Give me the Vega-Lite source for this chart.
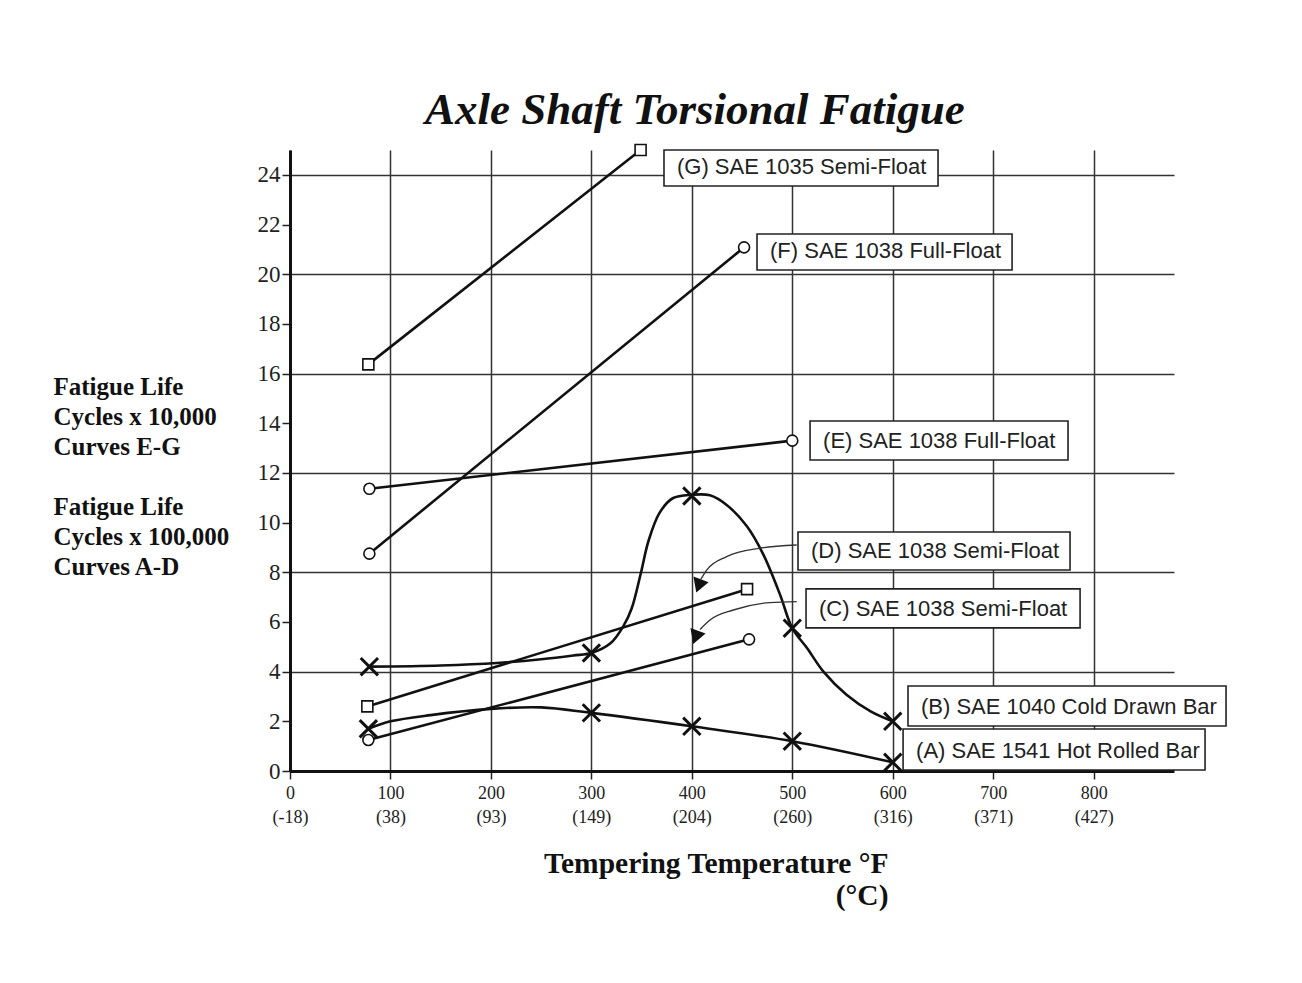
{
  "$schema": "https://vega.github.io/schema/vega-lite/v6.json",
  "autosize": {"type": "none"},
  "padding": {"left": 290, "top": 150, "right": 128, "bottom": 212},
  "width": 884,
  "height": 621,
  "background": "white",
  "title": {
    "text": "Axle Shaft Torsional Fatigue",
    "anchor": "start",
    "frame": "group",
    "dx": 135,
    "dy": 53,
    "offset": 25,
    "baseline": "alphabetic",
    "font": "Liberation Serif",
    "fontSize": 45,
    "fontStyle": "italic",
    "fontWeight": "bold",
    "color": "#111"
  },
  "config": {"view": {"stroke": null}},
  "datasets": {
    "points": [
      {"series": "G", "temp": 78, "life": 16.37},
      {"series": "G", "temp": 349, "life": 25.0},
      {"series": "F", "temp": 79, "life": 8.75},
      {"series": "F", "temp": 452, "life": 21.08},
      {"series": "E", "temp": 79, "life": 11.36},
      {"series": "E", "temp": 500, "life": 13.3},
      {"series": "D", "temp": 77, "life": 2.6},
      {"series": "D", "temp": 455, "life": 7.32},
      {"series": "C", "temp": 78, "life": 1.25},
      {"series": "C", "temp": 457, "life": 5.3},
      {"series": "B", "temp": 79, "life": 4.2},
      {"series": "B", "temp": 300, "life": 4.75},
      {"series": "B", "temp": 400, "life": 11.07},
      {"series": "B", "temp": 500, "life": 5.75},
      {"series": "B", "temp": 600, "life": 2.0},
      {"series": "A", "temp": 78, "life": 1.7},
      {"series": "A", "temp": 300, "life": 2.34},
      {"series": "A", "temp": 400, "life": 1.8},
      {"series": "A", "temp": 500, "life": 1.2},
      {"series": "A", "temp": 600, "life": 0.35}
    ],
    "curves": [
      {"series": "A", "temp": 78, "life": 1.7},
      {"series": "A", "temp": 100, "life": 2.0},
      {"series": "A", "temp": 140, "life": 2.25},
      {"series": "A", "temp": 200, "life": 2.5},
      {"series": "A", "temp": 250, "life": 2.56},
      {"series": "A", "temp": 300, "life": 2.34},
      {"series": "A", "temp": 400, "life": 1.8},
      {"series": "A", "temp": 500, "life": 1.2},
      {"series": "A", "temp": 600, "life": 0.35},
      {"series": "B", "temp": 79, "life": 4.2},
      {"series": "B", "temp": 150, "life": 4.25},
      {"series": "B", "temp": 206, "life": 4.35},
      {"series": "B", "temp": 250, "life": 4.5},
      {"series": "B", "temp": 282, "life": 4.65},
      {"series": "B", "temp": 300, "life": 4.75},
      {"series": "B", "temp": 319, "life": 5.14},
      {"series": "B", "temp": 332, "life": 5.84},
      {"series": "B", "temp": 340, "life": 6.53},
      {"series": "B", "temp": 349, "life": 7.92},
      {"series": "B", "temp": 357, "life": 9.28},
      {"series": "B", "temp": 368, "life": 10.4},
      {"series": "B", "temp": 381, "life": 10.98},
      {"series": "B", "temp": 400, "life": 11.12},
      {"series": "B", "temp": 418, "life": 11.1},
      {"series": "B", "temp": 435, "life": 10.7},
      {"series": "B", "temp": 455, "life": 9.84},
      {"series": "B", "temp": 471, "life": 8.73},
      {"series": "B", "temp": 488, "life": 7.08},
      {"series": "B", "temp": 500, "life": 5.75},
      {"series": "B", "temp": 515, "life": 4.93},
      {"series": "B", "temp": 531, "life": 4.0},
      {"series": "B", "temp": 554, "life": 3.07},
      {"series": "B", "temp": 578, "life": 2.4},
      {"series": "B", "temp": 600, "life": 2.0}
    ],
    "boxes": [
      {"label": "(G) SAE 1035 Semi-Float", "temp": 372.3, "temp2": 645.1, "life": 25.0, "life2": 23.55},
      {"label": "(F) SAE 1038 Full-Float", "temp": 464.9, "temp2": 718.8, "life": 21.62, "life2": 20.17},
      {"label": "(E) SAE 1038 Full-Float", "temp": 517.7, "temp2": 774.5, "life": 14.09, "life2": 12.52},
      {"label": "(D) SAE 1038 Semi-Float", "temp": 505.7, "temp2": 776.5, "life": 9.62, "life2": 8.09},
      {"label": "(C) SAE 1038 Semi-Float", "temp": 513.7, "temp2": 786.5, "life": 7.33, "life2": 5.76},
      {"label": "(B) SAE 1040 Cold Drawn Bar", "temp": 615.2, "temp2": 931.8, "life": 3.42, "life2": 1.81},
      {"label": "(A) SAE 1541 Hot Rolled Bar", "temp": 610.3, "temp2": 910.9, "life": 1.69, "life2": 0.04}
    ],
    "arrows": [
      {"series": "D", "temp": 504.4, "life": 9.1},
      {"series": "D", "temp": 467.9, "life": 8.97},
      {"series": "D", "temp": 434.7, "life": 8.63},
      {"series": "D", "temp": 414.8, "life": 8.09},
      {"series": "D", "temp": 409, "life": 7.72},
      {"series": "C", "temp": 504.4, "life": 6.82},
      {"series": "C", "temp": 477.8, "life": 6.78},
      {"series": "C", "temp": 441.3, "life": 6.48},
      {"series": "C", "temp": 418.1, "life": 6.08},
      {"series": "C", "temp": 408.2, "life": 5.7}
    ],
    "heads": [
      {"series": "D", "temp": 406.8, "life": 7.45},
      {"series": "C", "temp": 403.8, "life": 5.38}
    ]
  },
  "encoding": {
    "x": {
      "field": "temp",
      "type": "quantitative",
      "scale": {"domain": [0, 880], "nice": false, "zero": false},
      "axis": {
        "values": [0, 100, 200, 300, 400, 500, 600, 700, 800],
        "labelExpr": "[datum.label, '(' + round((datum.value - 32) * 5 / 9) + ')']",
        "labelFont": "Liberation Serif",
        "labelFontSize": 18,
        "labelLineHeight": 24,
        "labelColor": "#222",
        "labelPadding": 5,
        "labelFlush": false,
        "labelOverlap": false,
        "tickSize": 8,
        "tickColor": "#222",
        "tickWidth": 1.5,
        "domainColor": "#111",
        "domainWidth": 3,
        "grid": true,
        "gridColor": "#333",
        "gridWidth": 1.5,
        "title": ["Tempering Temperature °F\u00a0", "(°C)"],
        "titleFont": "Liberation Serif",
        "titleFontSize": 29.5,
        "titleFontWeight": "bold",
        "titleColor": "#111",
        "titleAlign": "right",
        "titleBaseline": "alphabetic",
        "titleX": 598,
        "titleY": 101,
        "titleLineHeight": 32
      }
    },
    "y": {
      "field": "life",
      "type": "quantitative",
      "scale": {"domain": [0, 25], "nice": false},
      "axis": {
        "values": [0, 2, 4, 6, 8, 10, 12, 14, 16, 18, 20, 22, 24],
        "labelFont": "Liberation Serif",
        "labelFontSize": 23,
        "labelColor": "#222",
        "labelPadding": 2,
        "tickSize": 8,
        "tickColor": "#222",
        "tickWidth": 1.5,
        "domainColor": "#111",
        "domainWidth": 3,
        "grid": true,
        "gridColor": "#333",
        "gridWidth": 1.5,
        "gridOpacity": {"condition": {"test": "datum.value % 4 === 0 && datum.value > 0", "value": 1}, "value": 0},
        "title": ["Fatigue Life", "Cycles x 10,000", "Curves E-G", "\u2800", "Fatigue Life", "Cycles x 100,000", "Curves A-D"],
        "titleFont": "Liberation Serif",
        "titleFontSize": 25,
        "titleFontWeight": "bold",
        "titleColor": "#111",
        "titleAngle": 0,
        "titleAlign": "left",
        "titleBaseline": "alphabetic",
        "titleX": -237,
        "titleY": 244,
        "titleLineHeight": 30
      }
    }
  },
  "layer": [
    {
      "data": {"name": "points"},
      "transform": [{"filter": "datum.series != 'A' && datum.series != 'B'"}],
      "mark": {"type": "line", "color": "#111", "strokeWidth": 2.6},
      "encoding": {"detail": {"field": "series"}}
    },
    {
      "data": {"name": "curves"},
      "mark": {"type": "line", "color": "#111", "strokeWidth": 2.6, "interpolate": "catmull-rom"},
      "encoding": {"detail": {"field": "series"}}
    },
    {
      "data": {"name": "arrows"},
      "mark": {"type": "line", "color": "#333", "strokeWidth": 1.4, "interpolate": "monotone"},
      "encoding": {"detail": {"field": "series"}}
    },
    {
      "data": {"name": "heads"},
      "mark": {"type": "point", "shape": "triangle-down", "filled": true, "color": "#111", "size": 260, "angle": 20, "opacity": 1}
    },
    {
      "data": {"name": "boxes"},
      "mark": {"type": "rect", "fill": "white", "stroke": "#222", "strokeWidth": 1.6},
      "encoding": {"x2": {"field": "temp2"}, "y2": {"field": "life2"}}
    },
    {
      "data": {"name": "boxes"},
      "mark": {"type": "text", "align": "left", "baseline": "middle", "dx": 13, "dy": -19, "font": "Liberation Sans", "fontSize": 22, "color": "#222"},
      "encoding": {"y": {"field": "life2", "type": "quantitative"}, "text": {"field": "label"}}
    },
    {
      "data": {"name": "points"},
      "transform": [{"filter": "datum.series != 'A' && datum.series != 'B'"}],
      "mark": {"type": "point", "filled": true, "fill": "white", "stroke": "#111", "strokeWidth": 1.6, "size": 121, "opacity": 1},
      "encoding": {
        "shape": {
          "field": "series",
          "scale": {"domain": ["C", "D", "E", "F", "G"], "range": ["circle", "square", "circle", "circle", "square"]},
          "legend": null
        }
      }
    },
    {
      "data": {"name": "points"},
      "transform": [{"filter": "datum.series == 'A' || datum.series == 'B'"}],
      "mark": {"type": "point", "shape": "M-1,-1L1,1M-1,1L1,-1", "filled": false, "stroke": "#111", "strokeWidth": 3, "size": 300, "opacity": 1}
    }
  ]
}
